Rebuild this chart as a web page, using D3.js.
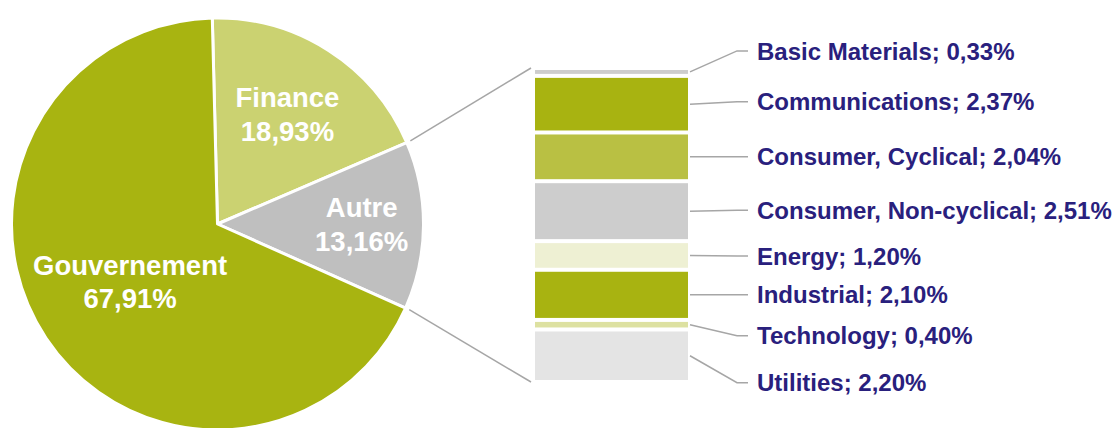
<!DOCTYPE html>
<html>
<head>
<meta charset="utf-8">
<script src="https://cdn.jsdelivr.net/npm/d3@7"></script>
<style>
  body { margin: 0; background: #fff; }
  text { font-family: "Liberation Sans", Arial, sans-serif; font-weight: bold; }
</style>
</head>
<body>
<svg id="chart" width="1115" height="428"></svg>
<script>
// 円グラフのデータ
const pieNames = ["Finance", "Autre", "Gouvernement"];
const pieValues = [18.93, 13.16, 67.91];
const pieColors = ["#cbd271", "#bfbfbf", "#a8b411"];

// 「Autre」の内訳
const subNames = ["Basic Materials", "Communications", "Consumer, Cyclical", "Consumer, Non-cyclical",
                  "Energy", "Industrial", "Technology", "Utilities"];
const subValues = [0.33, 2.37, 2.04, 2.51, 1.20, 2.10, 0.40, 2.20];
const subColors = ["#cdcdcd", "#a8b311", "#b9c043", "#cdcdcd", "#eef0d3", "#a8b311", "#dde1a1", "#e4e4e4"];

const fmt = v => v.toFixed(2).replace(".", ",") + "%";

const svg = d3.select("#chart");

// 円グラフ
const cx = 217.5, cy = 224, r = 206;
const startDeg = -1.45;
const pie = d3.pie().sort(null)
    .startAngle(startDeg * Math.PI / 180)
    .endAngle((startDeg + 360) * Math.PI / 180);
const arcs = pie(pieValues);
const arc = d3.arc().innerRadius(0).outerRadius(r);

const gPie = svg.append("g").attr("transform", `translate(${cx},${cy})`);
gPie.selectAll("path")
    .data(arcs)
    .join("path")
    .attr("d", arc)
    .attr("fill", (d, i) => pieColors[i])
    .attr("stroke", "#fff")
    .attr("stroke-width", 3)
    .attr("stroke-linejoin", "round");

// ラベル位置 (半径の割合)
const labelRadius = [0.63, 0.70, 0.51];
arcs.forEach((d, i) => {
    const c = d3.arc().innerRadius(0).outerRadius(2 * r * labelRadius[i]).centroid(d);
    const t = gPie.append("text")
        .attr("text-anchor", "middle")
        .attr("fill", "#fff")
        .style("font-size", "27.5px");
    t.append("tspan").attr("x", c[0]).attr("y", c[1] - 7.5).text(pieNames[i]);
    t.append("tspan").attr("x", c[0]).attr("y", c[1] + 26).text(fmt(pieValues[i]));
});

// 積み上げ棒
const total = d3.sum(subValues);
const yScale = d3.scaleLinear().domain([0, total]).range([68, 382]);
const barX = 535, barW = 153;
let cum = 0;
const segs = subValues.map((v, i) => {
    const s = { name: subNames[i], value: v, y0: cum, y1: cum + v, color: subColors[i] };
    cum += v;
    return s;
});

svg.append("g").selectAll("rect")
    .data(segs)
    .join("rect")
    .attr("x", barX)
    .attr("width", barW)
    .attr("y", d => yScale(d.y0) + 2)
    .attr("height", d => Math.max(0, yScale(d.y1) - yScale(d.y0) - 4))
    .attr("fill", d => d.color);

// 円から棒への接続線
const a0 = arcs[1].startAngle, a1 = arcs[1].endAngle;
const lineColor = "#a6a6a6";
[[a0, 0], [a1, total]].forEach(([a, v]) => {
    svg.append("line")
        .attr("x1", cx + (r + 4) * Math.sin(a))
        .attr("y1", cy - (r + 4) * Math.cos(a))
        .attr("x2", barX - 4)
        .attr("y2", yScale(v))
        .attr("stroke", lineColor)
        .attr("stroke-width", 1.5);
});

// 右側ラベル (重なり回避のずらし量)
const labelShift = [-21, -2.5, 0, -1, 0.5, 0, 11, 27];
const lx = 757;
segs.forEach((d, i) => {
    const my = (yScale(d.y0) + yScale(d.y1)) / 2;
    const ty = my + labelShift[i];
    svg.append("polyline")
        .attr("points", `${barX + barW + 2},${my} ${lx - 20},${ty} ${lx - 9},${ty}`)
        .attr("fill", "none")
        .attr("stroke", lineColor)
        .attr("stroke-width", 1.5);
    svg.append("text")
        .attr("x", lx)
        .attr("y", ty)
        .attr("dy", "0.36em")
        .attr("fill", "#29207d")
        .style("font-size", "24px")
        .text(d.name + "; " + fmt(d.value));
});
</script>
</body>
</html>
